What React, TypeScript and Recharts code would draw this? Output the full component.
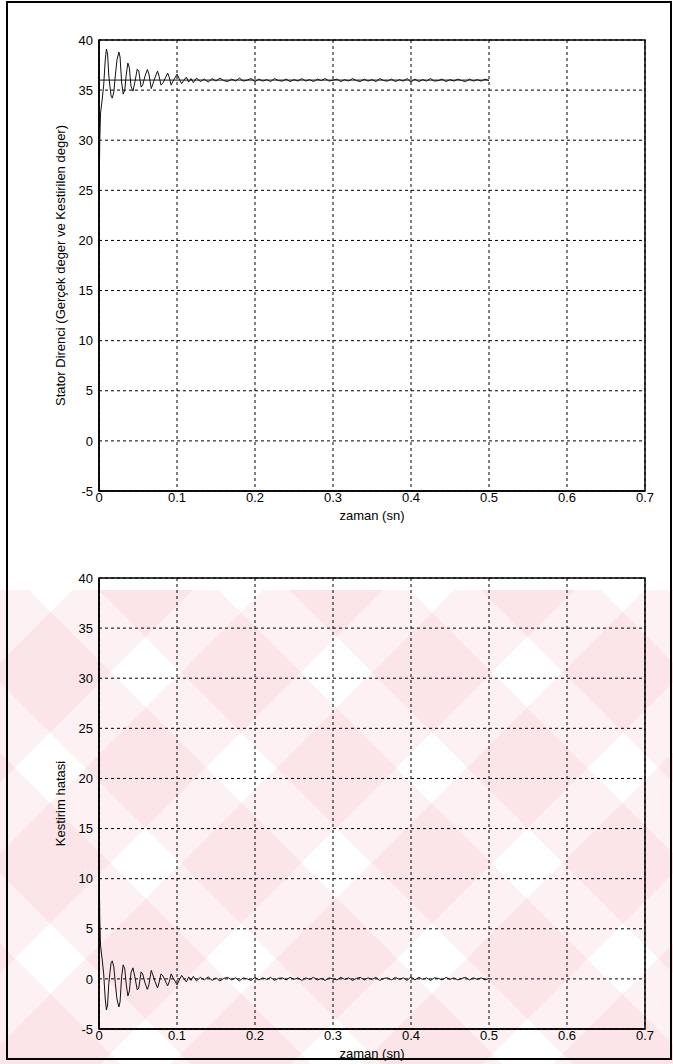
import React from 'react';
import { LineChart, Line, XAxis, YAxis, CartesianGrid, ReferenceArea, Label } from 'recharts';

// time axis (s)
const timeS = [
  0, 0.001, 0.002, 0.004, 0.006, 0.008, 0.0095, 0.011, 0.0125, 0.014, 0.0155, 0.017, 0.019, 0.021, 0.023, 0.0255,
  0.027, 0.029, 0.031, 0.033, 0.035, 0.037, 0.039, 0.041, 0.0435, 0.046, 0.049, 0.051, 0.054, 0.056, 0.059, 0.062,
  0.064, 0.067, 0.069, 0.072, 0.075, 0.077, 0.0795, 0.082, 0.085, 0.088, 0.09, 0.0925, 0.095, 0.098, 0.1, 0.103,
  0.106, 0.109, 0.112, 0.115, 0.118, 0.121, 0.125,
  0.13, 0.135, 0.14, 0.145, 0.15, 0.155, 0.16, 0.165, 0.17, 0.175, 0.18, 0.185, 0.19, 0.195, 0.2, 0.205, 0.21,
  0.215, 0.22, 0.225, 0.23, 0.235, 0.24, 0.245, 0.25, 0.255, 0.26, 0.265, 0.27, 0.275, 0.28, 0.285, 0.29, 0.295,
  0.3, 0.305, 0.31, 0.315, 0.32, 0.325, 0.33, 0.335, 0.34, 0.345, 0.35, 0.355, 0.36, 0.365, 0.37, 0.375, 0.38,
  0.385, 0.39, 0.395, 0.4, 0.405, 0.41, 0.415, 0.42, 0.425, 0.43, 0.435, 0.44, 0.445, 0.45, 0.455, 0.46, 0.465,
  0.47, 0.475, 0.48, 0.485, 0.49, 0.495, 0.5,
];

// estimated stator resistance (Kestirilen deger)
const estimatedR = [
  23.5, 30, 32.7, 34, 35.5, 38, 39.1, 38.6, 36.5, 35.4, 34.4, 34.2, 34.8, 36.5, 38, 38.8,
  38.3, 35.8, 34.6, 35, 36.6, 37.7, 37.2, 35.4, 34.9, 35.8, 37.1, 36.9, 35.3, 35.5, 36.4, 37.05,
  36.6, 35.15, 35.6, 36.3, 36.9, 36.4, 35.5, 35.7, 36.2, 36.7, 36.3, 35.5, 35.9, 36.3, 36.6, 36.1,
  35.65, 36.0, 36.3, 35.8, 36.15, 35.75, 36.2,
  35.85, 36.1, 35.8, 36.15, 35.9, 36.2, 35.95, 35.85, 36.1, 35.9, 36.2, 35.9, 36.0, 36.15, 35.85, 36.1, 35.9,
  36.05, 35.85, 36.15, 35.95, 35.9, 36.1, 35.85, 36.05, 35.9, 36.15, 35.9, 36.05, 35.85, 36.1, 35.95, 36.15, 35.9,
  36.0, 36.1, 35.85, 36.05, 35.9, 36.15, 35.95, 35.85, 36.1, 35.9, 36.05, 35.85, 36.15, 35.95, 35.9, 36.1, 35.85,
  36.05, 35.9, 36.15, 35.8, 36.1, 35.85, 36.05, 35.9, 36.15, 35.9, 35.95, 36.1, 35.85, 36.05, 35.9, 36.1, 35.95,
  35.85, 36.1, 35.9, 36.05, 35.9, 36.1, 35.95,
];

// estimation error (Kestirim hatasi)
const estimationError = [
  12.5, 6, 3.3, 2.0, 0.5, -2.0, -3.1, -2.6, -0.5, 0.6, 1.6, 1.8, 1.2, -0.5, -2.0, -2.8,
  -2.3, 0.2, 1.4, 1.0, -0.6, -1.7, -1.2, 0.6, 1.1, 0.2, -1.1, -0.9, 0.7, 0.5, -0.4, -1.05,
  -0.6, 0.85, 0.4, -0.3, -0.9, -0.4, 0.5, 0.3, -0.2, -0.7, -0.3, 0.5, 0.1, -0.3, -0.6, -0.1,
  0.35, 0.0, -0.3, 0.2, -0.15, 0.25, -0.2,
  0.15, -0.1, 0.2, -0.15, 0.1, -0.2, 0.05, 0.15, -0.1, 0.1, -0.2, 0.1, 0.0, -0.15, 0.15, -0.1, 0.1,
  -0.05, 0.15, -0.15, 0.05, 0.1, -0.1, 0.15, -0.05, 0.1, -0.15, 0.1, -0.05, 0.15, -0.1, 0.05, -0.15, 0.1,
  0.0, -0.1, 0.15, -0.05, 0.1, -0.15, 0.05, 0.15, -0.1, 0.1, -0.05, 0.15, -0.15, 0.05, 0.1, -0.1, 0.15,
  -0.05, 0.1, -0.15, 0.2, -0.1, 0.15, -0.05, 0.1, -0.15, 0.1, 0.05, -0.1, 0.15, -0.05, 0.1, -0.1, 0.05,
  0.15, -0.1, 0.1, -0.05, 0.1, -0.1, 0.05,
];

// actual stator resistance (Gercek deger)
const actualTime = [0, 0.5];
const actualR = [36, 36];

const xTicks = [0, 0.1, 0.2, 0.3, 0.4, 0.5, 0.6, 0.7];
const yTicks = [-5, 0, 5, 10, 15, 20, 25, 30, 35, 40];

const topYLabel = 'Stator Direnci (Gerçek deger ve Kestirilen deger)';
const bottomYLabel = 'Kestirim hatasi';
const xLabel = 'zaman (sn)';

const FONT = '"Liberation Sans", Arial, Helvetica, sans-serif';

const estData = timeS.map((t, i) => ({ t, v: estimatedR[i] }));
const errData = timeS.map((t, i) => ({ t, v: estimationError[i] }));
const actData = actualTime.map((t, i) => ({ t, v: actualR[i] }));

function Panel({ height, marginBottom, yLabel, series }: { height: number; marginBottom: number; yLabel: string; series: { t: number; v: number }[][] }) {
  const tickStyle = { fontSize: 13, fill: '#000', fontFamily: FONT };
  const labelStyle = { fontSize: 13, fill: '#000', fontFamily: FONT };
  return (
    <LineChart width={673} height={height} margin={{ top: 40, right: 28, left: 21, bottom: marginBottom }}>
      <CartesianGrid stroke="#000" strokeDasharray="3 3" strokeWidth={1} />
      <XAxis
        dataKey="t"
        type="number"
        domain={[0, 0.7]}
        ticks={xTicks}
        allowDataOverflow
        height={30}
        tickSize={0}
        tickMargin={2}
        tick={tickStyle}
        axisLine={{ stroke: '#000', strokeWidth: 1.5 }}
      >
        <Label value={xLabel} position="insideBottom" offset={1} style={labelStyle} />
      </XAxis>
      <YAxis
        dataKey="v"
        type="number"
        domain={[-5, 40]}
        ticks={yTicks}
        allowDataOverflow
        width={78}
        tickSize={0}
        tickMargin={6}
        tick={tickStyle}
        axisLine={{ stroke: '#000', strokeWidth: 1.5 }}
      >
        <Label value={yLabel} angle={-90} position="center" style={labelStyle} />
      </YAxis>
      <ReferenceArea x1={0} x2={0.7} y1={-5} y2={40} fill="none" stroke="#000" strokeWidth={1.5} ifOverflow="visible" />
      {series.map((d, i) => (
        <Line key={i} data={d} dataKey="v" type="linear" stroke="#111" strokeWidth={1} dot={false} isAnimationActive={false} />
      ))}
    </LineChart>
  );
}

export default function App() {
  const stripe = 'rgba(240,160,172,0.15)';
  return (
    <div style={{ position: 'absolute', left: 0, top: 0, width: 673, height: 1064, overflow: 'hidden', background: '#fff' }}>
      <div
        style={{
          position: 'absolute',
          left: 0,
          top: 590,
          width: 673,
          height: 474,
          background: `repeating-linear-gradient(45deg, ${stripe} 0 85px, transparent 85px 135px), repeating-linear-gradient(-45deg, ${stripe} 0 85px, transparent 85px 135px)`,
        }}
      />
      <div style={{ position: 'absolute', left: 6, top: 1, width: 662, height: 1055, border: '2px solid #000' }} />
      <div style={{ position: 'absolute', left: 0, top: 0 }}>
        <Panel height={540} marginBottom={19} yLabel={topYLabel} series={[actData, estData]} />
      </div>
      <div style={{ position: 'absolute', left: 0, top: 538 }}>
        <Panel height={526} marginBottom={5} yLabel={bottomYLabel} series={[errData]} />
      </div>
    </div>
  );
}
